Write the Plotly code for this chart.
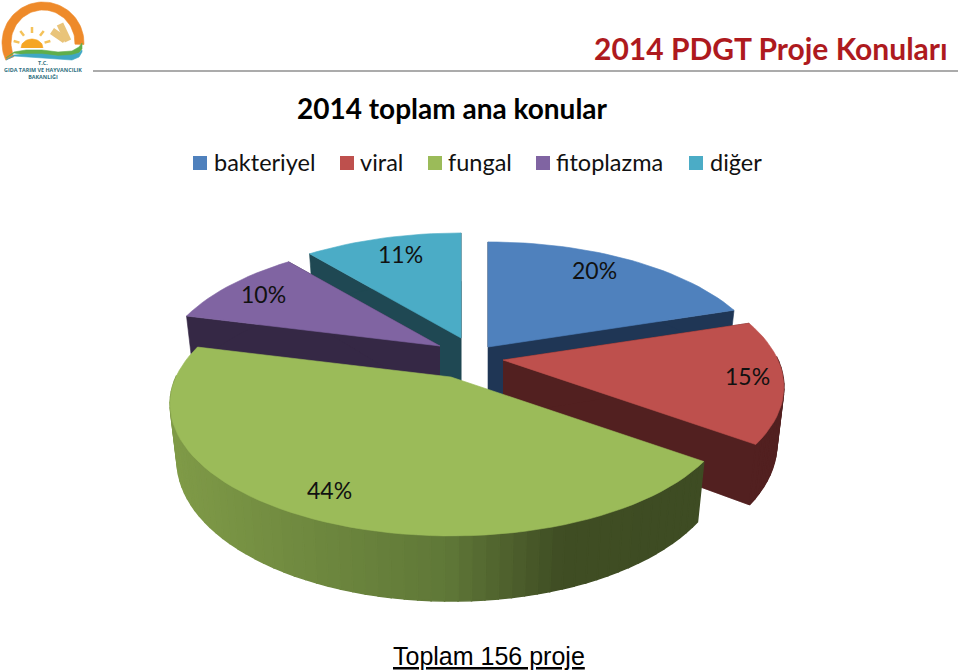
import numpy as np
import plotly.graph_objects as go

# ---------- data ----------
categories = ["bakteriyel", "viral", "fungal", "fitoplazma", "diğer"]
percent = [20, 15, 44, 10, 11]
title_main = "2014 PDGT Proje Konuları"
title_chart = "2014 toplam ana konular"
footer = "Toplam 156 proje"

# ---------- style / layout ----------
top_colors = ["#4F81BD", "#BE504D", "#9BBB59", "#8064A2", "#4BACC6"]
wall_colors = ["#1F3655", "#522020", None, "#352845", "#1F4853"]
apex_x = [488, 503, 451, 440, 461]
apex_y = [347, 360, 377, 346, 338]
label_x = [594, 747, 329, 263, 400]
label_y = [270, 376, 490, 294, 254]
legend_box_x = [193, 340, 428, 536, 689]
legend_text_x = [212, 358, 446, 554, 708]
draw_order = [0, 4, 3, 1, 2]
RX, RY, PERSP, DEPTH, BASE_SCALE = 275, 126.5, 0.204, 55, 0.975
FONT = "Lato"


def project(theta, ax, ay, down=0.0, scale=1.0):
    X, Y = np.sin(theta), -np.cos(theta)
    s = 1 / (1 - PERSP * Y)
    return ax + RX * X * s * scale, ay + RY * Y * s * scale + down * s


def fungal_wall(x):
    stops_x = [170, 300, 446, 560, 710]
    stops = np.array([[128, 155, 72], [112, 138, 64], [96, 120, 56], [64, 78, 36], [62, 76, 35]])
    c = [int(np.interp(x, stops_x, stops[:, i])) for i in range(3)]
    return f"rgb({c[0]},{c[1]},{c[2]})"


fig = go.Figure()


def poly(xs, ys, color, name, lw=0.6):
    fig.add_trace(go.Scatter(
        x=list(xs), y=list(ys), mode="lines", fill="toself", fillcolor=color,
        line=dict(color=color, width=lw), hoverinfo="skip", name=name, showlegend=False))


start = 0.0
angles = []
for p in percent:
    angles.append((start, start + p / sum(percent) * 2 * np.pi))
    start = angles[-1][1]

for i in draw_order:
    a0, a1 = angles[i]
    ax, ay = apex_x[i], apex_y[i]
    th = np.linspace(a0, a1, max(14, int(percent[i] * 1.6)))
    tx, ty = project(th, ax, ay)
    bx, by = project(th, ax, ay, DEPTH, BASE_SCALE)
    wall = wall_colors[i]
    if wall is not None:
        for t in (a0, a1):
            x1, y1 = project(t, ax, ay)
            x2, y2 = project(t, ax, ay, DEPTH, BASE_SCALE)
            poly([ax, x1, x2, ax], [ay, y1, y2, ay + DEPTH], wall, categories[i] + " side")
        poly(np.r_[bx, ax], np.r_[by, ay + DEPTH], wall, categories[i] + " base")
    for j in range(len(th) - 1):
        if np.cos((th[j] + th[j + 1]) / 2) > 0.02:
            continue
        xm = (tx[j] + tx[j + 1]) / 2
        col = wall if wall is not None else fungal_wall(xm)
        # drawn left to right order does not matter: the stroke hides the seams
        poly([tx[j], tx[j + 1], bx[j + 1], bx[j], tx[j]],
             [ty[j], ty[j + 1], by[j + 1], by[j], ty[j]], col, categories[i] + " rim", lw=1.5)
    poly(np.r_[ax, tx, ax], np.r_[ay, ty, ay], top_colors[i], categories[i])

annotations = []


def text(x, y, s, size, color="#000000", family=FONT, anchor="center"):
    annotations.append(dict(x=x, y=y, xref="x", yref="y", text=s, showarrow=False,
                            xanchor=anchor, yanchor="middle",
                            font=dict(size=size, color=color, family=family)))


for i, p in enumerate(percent):
    text(label_x[i], label_y[i], f"{p}%", 23, "#111111")

shapes = []
for i, c in enumerate(categories):
    shapes.append(dict(type="rect", xref="x", yref="y", x0=legend_box_x[i], x1=legend_box_x[i] + 14,
                       y0=156, y1=170, fillcolor=top_colors[i], line=dict(width=0)))
    text(legend_text_x[i], 161.5, c, 23.5, "#111111", anchor="left")

text(452, 108, f"<b>{title_chart}</b>", 28, "#000000")
text(950, 48, f"<b>{title_main}</b>", 30, "#AE1A1E", anchor="right")
text(488.5, 656, f"<u>{footer}</u>", 25, "#000000", family="Liberation Sans")

# header rule
shapes.append(dict(type="line", xref="x", yref="y", x0=93, x1=958, y0=71, y1=71,
                   line=dict(color="#ABABAB", width=1.8)))

# ---------- logo ----------
th = np.linspace(np.radians(-115), np.radians(92), 60)
poly(np.r_[43 + 41 * np.sin(th), (43 + 32 * np.sin(th))[::-1]],
     np.r_[43 - 41 * np.cos(th), (43 - 33 * np.cos(th))[::-1]], "#EE8A2A", "logo arc")
th = np.linspace(-np.pi / 2, np.pi / 2, 24)
poly(32 + 11 * np.sin(th), 48 - 9 * np.cos(th), "#F5A623", "logo sun")
for deg in [-75, -38, 0, 38, 75]:
    r = np.radians(deg)
    shapes.append(dict(type="line", xref="x", yref="y",
                       x0=32 + 13 * np.sin(r), y0=46 - 13 * np.cos(r),
                       x1=32 + 19 * np.sin(r), y1=46 - 19 * np.cos(r),
                       line=dict(color="#F4C25A", width=2.5)))
for (x0, y0, x1, y1) in [(52, 31, 65, 40), (60, 24, 68, 41)]:
    shapes.append(dict(type="line", xref="x", yref="y", x0=x0, y0=y0, x1=x1, y1=y1,
                       line=dict(color="#E9C47A", width=7)))
sx = np.array([6, 14, 26, 42, 58, 72, 79, 82])
poly(np.r_[sx, sx[::-1]], np.r_[[58, 52, 50, 50, 52, 51, 47, 43], [49, 53, 57, 56, 55, 55, 53, 58]],
     "#5FAE4B", "logo green")
poly(np.r_[sx, sx[::-1]], np.r_[[60, 55, 54, 54, 56, 55, 53, 50], [52, 57, 60, 59, 58, 57, 56, 60]],
     "#3FA7C4", "logo blue")
text(43, 69.5, "<b>T.C.<br>GIDA TARIM VE HAYVANCILIK<br>BAKANLIĞI</b>", 5.4, "#2E6F80", family="Open Sans")

fig.update_layout(
    width=959, height=672, margin=dict(l=0, r=0, t=0, b=0),
    paper_bgcolor="white", plot_bgcolor="white", showlegend=False,
    xaxis=dict(range=[0, 959], visible=False, fixedrange=True),
    yaxis=dict(range=[672, 0], visible=False, fixedrange=True),
    annotations=annotations, shapes=shapes,
)
fig.write_html("out.html", post_script="document.body.style.margin='0';", config={"displayModeBar": False})
